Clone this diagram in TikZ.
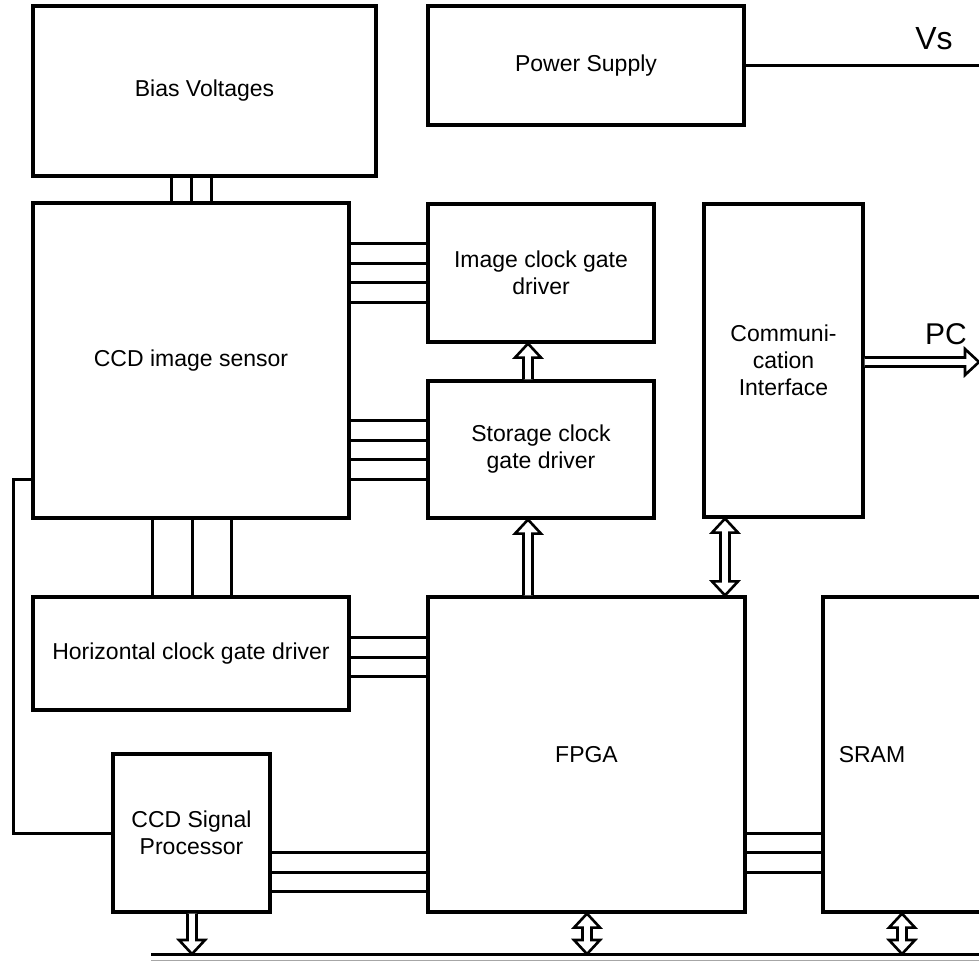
\documentclass[tikz,border=0pt]{standalone}
\usepackage{fontspec}
\setmainfont{Liberation Sans}
\usetikzlibrary{positioning,calc}

%% hollow block arrows, drawn from (#1) to the tip at (#2)
\newcommand{\hollowup}[2]{%
  \draw[harr] let \p1=(#1), \p2=(#2) in
    (\x1-4.5pt,\y1) -- (\x1-4.5pt,\y2-14pt) -- (\x1-13pt,\y2-14pt) -- (\x1,\y2)
    -- (\x1+13pt,\y2-14pt) -- (\x1+4.5pt,\y2-14pt) -- (\x1+4.5pt,\y1);}
\newcommand{\hollowdown}[2]{%
  \draw[harr] let \p1=(#1), \p2=(#2) in
    (\x1-4.5pt,\y1) -- (\x1-4.5pt,\y2+14pt) -- (\x1-13pt,\y2+14pt) -- (\x1,\y2)
    -- (\x1+13pt,\y2+14pt) -- (\x1+4.5pt,\y2+14pt) -- (\x1+4.5pt,\y1);}
\newcommand{\hollowboth}[2]{%
  \draw[harr] let \p1=(#1), \p2=(#2) in
    (\x1,\y1) -- (\x1+13pt,\y1-14pt) -- (\x1+4.5pt,\y1-14pt) -- (\x1+4.5pt,\y2+14pt)
    -- (\x1+13pt,\y2+14pt) -- (\x1,\y2) -- (\x1-13pt,\y2+14pt) -- (\x1-4.5pt,\y2+14pt)
    -- (\x1-4.5pt,\y1-14pt) -- (\x1-13pt,\y1-14pt) -- cycle;}
\newcommand{\hollowright}[2]{%
  \draw[harr] let \p1=(#1), \p2=(#2) in
    (\x1,\y1+4.5pt) -- (\x2-14pt,\y1+4.5pt) -- (\x2-14pt,\y1+13pt) -- (\x2,\y1)
    -- (\x2-14pt,\y1-13pt) -- (\x2-14pt,\y1-4.5pt) -- (\x1,\y1-4.5pt);}

\begin{document}
\begin{tikzpicture}[
  x=1pt, y=-1pt,
  font=\fontsize{23}{27}\selectfont,
  blk/.style={draw, line width=3.2pt, align=center, inner sep=0pt},
  wire/.style={line width=3pt},
  harr/.style={line width=2.6pt, fill=white, line join=miter}
]
\useasboundingbox (0,0) rectangle (979,962);
\clip (0,0) rectangle (979,962);

%% ===== top row =====
\node[blk, minimum width=343, minimum height=170] (bias) at (204.5,91) {Bias Voltages};
\node[blk, minimum width=316, minimum height=119] (power) at (586,65.5) {Power Supply};
\coordinate (vsend) at (990,65.5);
\draw[wire] (power.east) -- (vsend);
\node[font=\fontsize{32}{36}\selectfont] (vs) at (934,39) {Vs};

%% ===== sensor and clock drivers =====
\node[blk, minimum width=316, minimum height=315] (ccd) at (191,360.5) {CCD image sensor};
\node[blk, minimum width=226, minimum height=138] (imgclk) at (541,273) {Image clock gate\\driver};
\node[blk, minimum width=226, minimum height=137] (stoclk) at (541,449.5) {Storage clock\\gate driver};
\node[blk, minimum width=159, minimum height=313] (comm) at (783.5,360.5) {Communi-\\cation\\Interface};

\foreach \xx in {171,191,211}
  \draw[wire] (\xx,0 |- bias.south) -- (\xx,0 |- ccd.north);
\foreach \yy in {243,263,282,302}
  \draw[wire] (ccd.east |- 0,\yy) -- (imgclk.west |- 0,\yy);
\foreach \yy in {420,440,459,479}
  \draw[wire] (ccd.east |- 0,\yy) -- (stoclk.west |- 0,\yy);

\hollowup{528,0 |- stoclk.north}{528,0 |- imgclk.south}
\coordinate (pc) at (979,362);
\hollowright{comm.east |- pc}{pc}
\node[font=\fontsize{30}{34}\selectfont] (pclbl) at (946,334) {PC};

%% ===== lower row =====
\node[blk, minimum width=316, minimum height=113] (horiz) at (191,653.5) {Horizontal clock gate driver};
\node[blk, minimum width=317, minimum height=315] (fpga) at (586.5,754.5) {FPGA};
\node[blk, minimum width=200, minimum height=315] (sram) at (923,754.5) {};
\node (sramlbl) at (872,754.5) {SRAM};
\node[blk, minimum width=157, minimum height=158] (sigproc) at (191.5,833) {CCD Signal\\Processor};

\foreach \xx in {152,192,231}
  \draw[wire] (\xx,0 |- ccd.south) -- (\xx,0 |- horiz.north);
\foreach \yy in {637,657,676}
  \draw[wire] (horiz.east |- 0,\yy) -- (fpga.west |- 0,\yy);
\foreach \yy in {852,872,891}
  \draw[wire] (sigproc.east |- 0,\yy) -- (fpga.west |- 0,\yy);
\foreach \yy in {833,852,872}
  \draw[wire] (fpga.east |- 0,\yy) -- (sram.west |- 0,\yy);

\draw[wire] (ccd.west |- 0,479) -- (13,479) |- (sigproc.west);

\hollowup{528,0 |- fpga.north}{528,0 |- stoclk.south}
\hollowboth{725,0 |- comm.south}{725,0 |- fpga.north}

%% ===== bus =====
\coordinate (busl) at (151,954);
\coordinate (busr) at (979,954);
\draw[wire] (busl) -- (busr);
\draw[black!35, line width=1pt] (151,960) -- (979,960);

\hollowdown{192,0 |- sigproc.south}{192,0 |- busl}
\hollowboth{587,0 |- fpga.south}{587,0 |- busl}
\hollowboth{902,0 |- sram.south}{902,0 |- busl}
\end{tikzpicture}
\end{document}
